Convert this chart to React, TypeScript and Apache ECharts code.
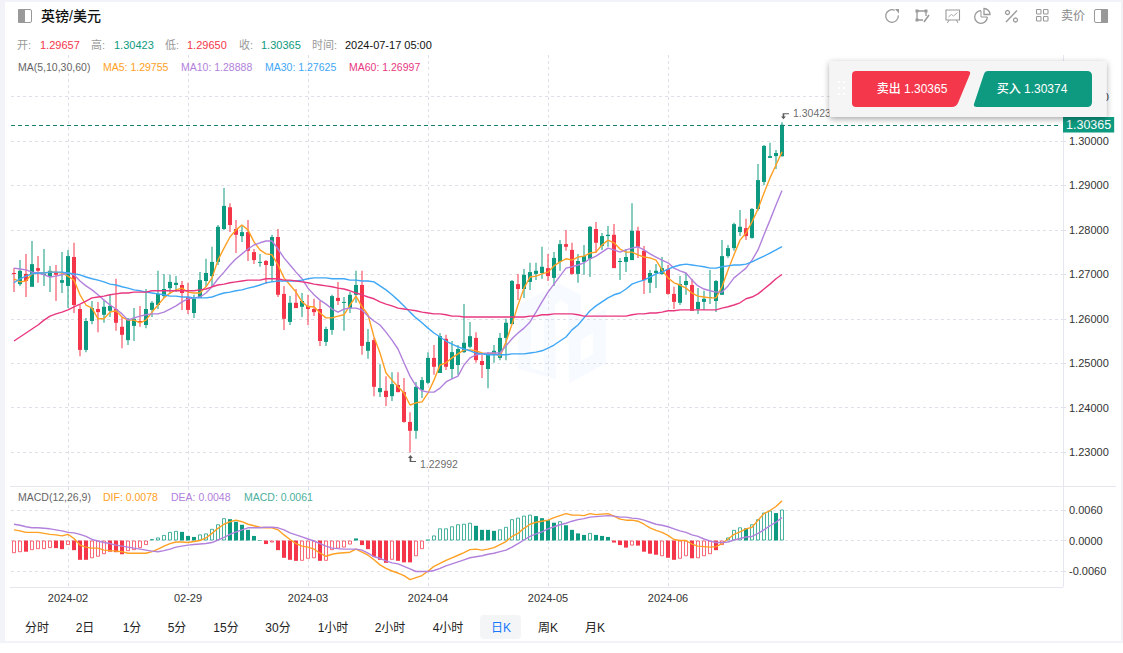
import React, { useEffect, useRef } from "react";
import * as echarts from "echarts";

const opens = [
  1.2703,1.2678,1.2701,1.2672,1.2714,1.2699,1.2694,1.2705,1.2681,1.2674,
  1.2739,1.2622,1.2530,1.2595,1.2622,1.2609,1.2618,1.2622,1.2582,1.2552,
  1.2584,1.2595,1.2586,1.2620,1.2631,1.2651,1.2669,1.2676,1.2676,1.2649,
  1.2613,1.2647,1.2685,1.2696,1.2728,1.2802,1.2851,1.2802,1.2786,1.2795,
  1.2750,1.2726,1.2730,1.2719,1.2784,1.2656,1.2593,1.2636,1.2627,1.2629,
  1.2622,1.2622,1.2548,1.2575,1.2647,1.2636,1.2624,1.2654,1.2676,1.2528,
  1.2552,1.2435,1.2438,1.2426,1.2451,1.2435,1.2368,1.2348,1.2440,1.2456,
  1.2512,1.2478,1.2555,1.2487,1.2496,1.2525,1.2537,1.2557,1.2505,1.2487,
  1.2521,1.2512,1.2557,1.2588,1.2678,1.2667,1.2683,1.2701,1.2703,1.2714,
  1.2692,1.2728,1.2768,1.2755,1.2701,1.2728,1.2735,1.2802,1.2764,1.2786,
  1.2789,1.2728,1.2728,1.2732,1.2798,1.2753,1.2681,1.2703,1.2701,1.2712,
  1.2656,1.2636,1.2676,1.2676,1.2622,1.2638,1.2647,1.2640,1.2654,1.2741,
  1.2759,1.2795,1.2804,1.2782,1.2847,1.2908,1.2962,1.2966,1.29657,
];
const closes = [
  1.2701,1.2708,1.2685,1.2723,1.2708,1.2701,1.2708,1.2699,1.2687,1.2741,
  1.2631,1.2530,1.2595,1.2624,1.2615,1.2627,1.2629,1.2591,1.2564,1.2600,
  1.2600,1.2593,1.2622,1.2636,1.2656,1.2667,1.2683,1.2681,1.2658,1.2620,
  1.2645,1.2687,1.2703,1.2728,1.2807,1.2854,1.2811,1.2789,1.2795,1.2753,
  1.2732,1.2728,1.2721,1.2784,1.2654,1.2600,1.2636,1.2624,1.2640,1.2622,
  1.2615,1.2550,1.2577,1.2651,1.2640,1.2638,1.2654,1.2676,1.2539,1.2548,
  1.2447,1.2444,1.2424,1.2453,1.2435,1.2368,1.2348,1.2447,1.2462,1.2512,
  1.2492,1.2561,1.2492,1.2525,1.2532,1.2546,1.2561,1.2507,1.2496,1.2523,
  1.2528,1.2557,1.2591,1.2685,1.2667,1.2699,1.2705,1.2708,1.2717,1.2696,
  1.2737,1.2768,1.2762,1.2701,1.2730,1.2741,1.2807,1.2771,1.2786,1.2789,
  1.2714,1.2730,1.2739,1.2798,1.2762,1.2687,1.2703,1.2708,1.2714,1.2656,
  1.2638,1.2678,1.2685,1.2618,1.2638,1.2645,1.2649,1.2685,1.2741,1.2759,
  1.2813,1.2807,1.2786,1.2847,1.2912,1.2989,1.2966,1.2973,1.30365,
];
const highs = [
  1.2714,1.2732,1.2746,1.2775,1.2741,1.2757,1.2719,1.2721,1.2750,1.2755,
  1.2771,1.2631,1.2602,1.2640,1.2638,1.2642,1.2654,1.2690,1.2604,1.2602,
  1.2624,1.2629,1.2667,1.2640,1.2708,1.2701,1.2699,1.2696,1.2685,1.2681,
  1.2654,1.2705,1.2735,1.2762,1.2811,1.2894,1.2860,1.2822,1.2811,1.2822,
  1.2757,1.2746,1.2732,1.2789,1.2802,1.2674,1.2651,1.2667,1.2658,1.2654,
  1.2645,1.2640,1.2582,1.2654,1.2683,1.2649,1.2660,1.2708,1.2708,1.2577,
  1.2557,1.2498,1.2471,1.2480,1.2480,1.2467,1.2390,1.2458,1.2469,1.2525,
  1.2541,1.2568,1.2564,1.2550,1.2541,1.2633,1.2593,1.2570,1.2519,1.2525,
  1.2541,1.2568,1.2600,1.2687,1.2701,1.2712,1.2726,1.2726,1.2762,1.2746,
  1.2750,1.2777,1.2800,1.2771,1.2746,1.2766,1.2809,1.2818,1.2793,1.2809,
  1.2813,1.2737,1.2757,1.2860,1.2807,1.2764,1.2710,1.2723,1.2739,1.2721,
  1.2672,1.2696,1.2703,1.2690,1.2669,1.2663,1.2710,1.2687,1.2777,1.2766,
  1.2816,1.2845,1.2825,1.2849,1.2948,1.2991,1.2996,1.2980,1.30423,
];
const lows = [
  1.2660,1.2674,1.2649,1.2672,1.2681,1.2674,1.2660,1.2640,1.2658,1.2624,
  1.2613,1.2516,1.2525,1.2588,1.2570,1.2591,1.2604,1.2573,1.2534,1.2541,
  1.2550,1.2582,1.2579,1.2604,1.2622,1.2647,1.2656,1.2660,1.2620,1.2611,
  1.2602,1.2647,1.2672,1.2672,1.2721,1.2800,1.2795,1.2748,1.2773,1.2730,
  1.2723,1.2717,1.2678,1.2683,1.2649,1.2575,1.2586,1.2624,1.2604,1.2586,
  1.2606,1.2539,1.2539,1.2564,1.2631,1.2573,1.2613,1.2636,1.2519,1.2510,
  1.2426,1.2424,1.2404,1.2415,1.2435,1.2366,1.22992,1.2330,1.2422,1.2453,
  1.2474,1.2478,1.2485,1.2465,1.2474,1.2523,1.2534,1.2501,1.2467,1.2444,
  1.2501,1.2507,1.2507,1.2588,1.2642,1.2647,1.2665,1.2687,1.2690,1.2685,
  1.2674,1.2708,1.2753,1.2699,1.2681,1.2699,1.2694,1.2748,1.2755,1.2762,
  1.2714,1.2687,1.2705,1.2732,1.2737,1.2656,1.2658,1.2669,1.2699,1.2654,
  1.2622,1.2631,1.2654,1.2618,1.2611,1.2620,1.2633,1.2615,1.2654,1.2737,
  1.2753,1.2786,1.2777,1.2780,1.2843,1.2901,1.2962,1.2937,1.29650,
];

const ma5 = [
  1.2690,1.2683,1.2685,1.2701,1.2703,1.2703,1.2705,1.2705,1.2703,1.2696,
  1.2687,1.2654,1.2631,1.2624,1.2600,1.2600,1.2615,1.2618,1.2604,1.2597,
  1.2597,1.2591,1.2597,1.2615,1.2631,1.2647,1.2658,1.2665,1.2669,1.2660,
  1.2658,1.2658,1.2672,1.2692,1.2732,1.2759,1.2784,1.2800,1.2811,1.2800,
  1.2773,1.2755,1.2746,1.2744,1.2721,1.2692,1.2676,1.2660,1.2638,1.2627,
  1.2627,1.2613,1.2602,1.2602,1.2606,1.2609,1.2631,1.2651,1.2627,1.2609,
  1.2559,1.2523,1.2478,1.2462,1.2447,1.2433,1.2406,1.2411,1.2413,1.2433,
  1.2462,1.2496,1.2501,1.2512,1.2521,1.2530,1.2530,1.2528,1.2523,1.2521,
  1.2523,1.2516,1.2548,1.2588,1.2631,1.2669,1.2694,1.2696,1.2701,1.2705,
  1.2719,1.2728,1.2735,1.2732,1.2739,1.2741,1.2748,1.2750,1.2766,1.2777,
  1.2771,1.2757,1.2750,1.2750,1.2744,1.2739,1.2737,1.2732,1.2710,1.2692,
  1.2681,1.2676,1.2669,1.2658,1.2651,1.2649,1.2647,1.2647,1.2672,1.2710,
  1.2744,1.2777,1.2793,1.2818,1.2847,1.2883,1.2917,1.2946,1.29755,
];
const ma10 = [
  1.2714,1.2712,1.2710,1.2705,1.2703,1.2699,1.2694,1.2696,1.2699,1.2703,
  1.2699,1.2685,1.2674,1.2665,1.2654,1.2642,1.2631,1.2622,1.2611,1.2597,
  1.2602,1.2606,1.2609,1.2611,1.2611,1.2615,1.2622,1.2629,1.2638,1.2645,
  1.2647,1.2649,1.2658,1.2672,1.2690,1.2705,1.2721,1.2735,1.2746,1.2757,
  1.2766,1.2771,1.2775,1.2775,1.2757,1.2737,1.2721,1.2705,1.2690,1.2669,
  1.2654,1.2642,1.2633,1.2622,1.2615,1.2622,1.2624,1.2624,1.2620,1.2606,
  1.2595,1.2586,1.2570,1.2552,1.2532,1.2501,1.2471,1.2449,1.2438,1.2435,
  1.2435,1.2444,1.2458,1.2465,1.2471,1.2496,1.2512,1.2519,1.2521,1.2523,
  1.2523,1.2523,1.2539,1.2555,1.2568,1.2579,1.2593,1.2615,1.2638,1.2660,
  1.2678,1.2696,1.2714,1.2717,1.2721,1.2726,1.2735,1.2741,1.2750,1.2759,
  1.2755,1.2750,1.2755,1.2759,1.2762,1.2755,1.2746,1.2739,1.2732,1.2726,
  1.2714,1.2708,1.2703,1.2687,1.2674,1.2667,1.2663,1.2660,1.2660,1.2674,
  1.2692,1.2703,1.2714,1.2732,1.2755,1.2789,1.2822,1.2856,1.28888,
];
const ma30 = [
  1.2681,1.2690,1.2696,1.2701,1.2703,1.2703,1.2705,1.2705,1.2705,1.2703,
  1.2701,1.2699,1.2694,1.2690,1.2687,1.2683,1.2678,1.2676,1.2672,1.2669,
  1.2665,1.2663,1.2660,1.2658,1.2656,1.2654,1.2651,1.2651,1.2649,1.2649,
  1.2647,1.2647,1.2647,1.2649,1.2654,1.2658,1.2660,1.2663,1.2665,1.2669,
  1.2672,1.2676,1.2681,1.2683,1.2685,1.2685,1.2685,1.2685,1.2687,1.2690,
  1.2692,1.2692,1.2692,1.2690,1.2690,1.2690,1.2687,1.2687,1.2685,1.2685,
  1.2683,1.2674,1.2665,1.2654,1.2642,1.2629,1.2615,1.2602,1.2591,1.2579,
  1.2568,1.2559,1.2550,1.2543,1.2537,1.2532,1.2528,1.2523,1.2521,1.2519,
  1.2519,1.2519,1.2519,1.2521,1.2521,1.2521,1.2523,1.2525,1.2528,1.2534,
  1.2541,1.2550,1.2559,1.2575,1.2586,1.2602,1.2618,1.2629,1.2638,1.2647,
  1.2654,1.2658,1.2667,1.2678,1.2683,1.2687,1.2694,1.2701,1.2705,1.2712,
  1.2717,1.2721,1.2723,1.2721,1.2719,1.2717,1.2714,1.2714,1.2717,1.2719,
  1.2721,1.2721,1.2723,1.2728,1.2735,1.2741,1.2748,1.2755,1.27625,
];
const ma60 = [
  1.2550,1.2559,1.2568,1.2577,1.2586,1.2597,1.2606,1.2611,1.2615,1.2620,
  1.2627,1.2633,1.2640,1.2647,1.2649,1.2651,1.2654,1.2656,1.2658,1.2658,
  1.2660,1.2660,1.2660,1.2663,1.2663,1.2663,1.2663,1.2663,1.2663,1.2663,
  1.2663,1.2665,1.2667,1.2672,1.2676,1.2678,1.2681,1.2683,1.2685,1.2687,
  1.2687,1.2687,1.2690,1.2690,1.2690,1.2687,1.2687,1.2685,1.2683,1.2681,
  1.2678,1.2676,1.2674,1.2672,1.2669,1.2667,1.2663,1.2658,1.2654,1.2649,
  1.2645,1.2638,1.2633,1.2629,1.2624,1.2622,1.2620,1.2618,1.2615,1.2613,
  1.2611,1.2611,1.2609,1.2606,1.2606,1.2604,1.2604,1.2604,1.2604,1.2604,
  1.2604,1.2604,1.2604,1.2604,1.2604,1.2604,1.2606,1.2606,1.2609,1.2609,
  1.2611,1.2611,1.2611,1.2611,1.2609,1.2606,1.2606,1.2606,1.2606,1.2606,
  1.2606,1.2606,1.2606,1.2609,1.2611,1.2611,1.2613,1.2613,1.2615,1.2618,
  1.2618,1.2620,1.2620,1.2620,1.2620,1.2620,1.2620,1.2620,1.2624,1.2627,
  1.2631,1.2636,1.2645,1.2649,1.2656,1.2667,1.2678,1.2690,1.26997,
];

const macdHist = [
  -0.0025,-0.0023,-0.0022,-0.0019,-0.0017,-0.0017,-0.0015,-0.0015,-0.0017,-0.0009,
  -0.0019,-0.0038,-0.0038,-0.0035,-0.0032,-0.0027,-0.0022,-0.0023,-0.0027,-0.0021,
  -0.0019,-0.0015,-0.0009,0.0003,0.0006,0.0011,0.0017,0.0019,0.0017,0.0009,
  0.0007,0.0012,0.0014,0.0023,0.0032,0.0044,0.0042,0.0037,0.0031,0.0021,
  0.0009,0.0001,-0.0007,-0.0004,-0.0019,-0.0034,-0.0038,-0.0040,-0.0040,-0.0036,
  -0.0035,-0.0040,-0.0040,-0.0019,-0.0016,-0.0014,-0.0008,0.0004,-0.0009,-0.0017,
  -0.0032,-0.0038,-0.0044,-0.0038,-0.0040,-0.0043,-0.0043,-0.0031,-0.0017,0.0002,
  0.0010,0.0024,0.0024,0.0028,0.0032,0.0033,0.0035,0.0029,0.0021,0.0021,
  0.0019,0.0022,0.0027,0.0042,0.0045,0.0049,0.0051,0.0048,0.0044,0.0040,
  0.0035,0.0038,0.0030,0.0021,0.0014,0.0011,0.0015,0.0011,0.0009,0.0007,
  -0.0004,-0.0009,-0.0014,-0.0010,-0.0010,-0.0022,-0.0026,-0.0028,-0.0031,-0.0034,
  -0.0038,-0.0036,-0.0031,-0.0035,-0.0035,-0.0031,-0.0027,-0.0019,-0.0009,0.0006,
  0.0021,0.0026,0.0024,0.0032,0.0042,0.0055,0.0059,0.0054,0.0061,
];
const macdHollow = [
  1,1,0,1,1,1,1,0,0,1,
  0,0,0,1,1,1,0,0,0,1,
  1,1,1,1,1,1,1,1,0,0,
  0,1,1,1,1,1,0,0,0,0,
  0,0,0,1,0,0,0,0,1,1,
  1,0,1,1,1,1,1,0,0,0,
  0,0,0,1,0,0,0,1,1,0,
  1,1,1,1,1,1,1,0,0,0,
  0,1,1,1,1,1,1,0,0,0,
  0,1,0,0,0,0,1,0,0,0,
  0,0,0,1,0,0,0,0,1,0,
  0,1,1,0,1,1,1,0,1,1,
  1,1,0,1,1,1,1,0,1,
];
const dif = [
  0.0021,0.0019,0.0016,0.0016,0.0016,0.0014,0.0012,0.0011,0.0009,0.0012,
  0.0004,-0.0009,-0.0013,-0.0015,-0.0015,-0.0019,-0.0020,-0.0021,-0.0022,-0.0025,
  -0.0025,-0.0025,-0.0025,-0.0022,-0.0017,-0.0011,-0.0006,-0.0003,-0.0003,-0.0004,
  -0.0002,0.0000,0.0005,0.0014,0.0024,0.0032,0.0037,0.0040,0.0037,0.0032,
  0.0029,0.0026,0.0025,0.0025,0.0021,0.0011,0.0002,-0.0006,-0.0011,-0.0013,
  -0.0017,-0.0025,-0.0031,-0.0027,-0.0025,-0.0024,-0.0023,-0.0017,-0.0023,-0.0029,
  -0.0038,-0.0048,-0.0055,-0.0060,-0.0064,-0.0069,-0.0077,-0.0073,-0.0069,-0.0060,
  -0.0051,-0.0045,-0.0039,-0.0034,-0.0029,-0.0024,-0.0018,-0.0017,-0.0019,-0.0017,
  -0.0014,-0.0008,-0.0002,0.0008,0.0014,0.0024,0.0032,0.0036,0.0038,0.0040,
  0.0045,0.0049,0.0053,0.0050,0.0050,0.0049,0.0053,0.0051,0.0052,0.0053,
  0.0048,0.0042,0.0040,0.0040,0.0038,0.0032,0.0025,0.0020,0.0016,0.0010,
  0.0002,0.0000,0.0000,-0.0007,-0.0011,-0.0012,-0.0013,-0.0012,-0.0006,0.0003,
  0.0012,0.0017,0.0023,0.0026,0.0040,0.0053,0.0059,0.0067,0.0078,
];
const dea = [
  0.0032,0.0030,0.0027,0.0025,0.0025,0.0024,0.0023,0.0021,0.0019,0.0016,
  0.0015,0.0012,0.0008,0.0002,-0.0001,-0.0004,-0.0006,-0.0009,-0.0011,-0.0013,
  -0.0015,-0.0017,-0.0019,-0.0021,-0.0022,-0.0020,-0.0017,-0.0013,-0.0011,-0.0009,
  -0.0008,-0.0007,-0.0006,-0.0004,0.0001,0.0006,0.0012,0.0017,0.0021,0.0025,
  0.0025,0.0025,0.0026,0.0026,0.0025,0.0021,0.0015,0.0011,0.0007,0.0003,
  -0.0001,-0.0006,-0.0011,-0.0015,-0.0016,-0.0017,-0.0017,-0.0017,-0.0019,-0.0025,
  -0.0032,-0.0035,-0.0040,-0.0044,-0.0046,-0.0051,-0.0056,-0.0061,-0.0061,-0.0061,
  -0.0059,-0.0055,-0.0050,-0.0046,-0.0042,-0.0038,-0.0034,-0.0032,-0.0030,-0.0027,
  -0.0025,-0.0022,-0.0019,-0.0013,-0.0006,0.0001,0.0008,0.0013,0.0017,0.0023,
  0.0027,0.0031,0.0034,0.0038,0.0041,0.0043,0.0046,0.0047,0.0048,0.0049,
  0.0048,0.0046,0.0046,0.0044,0.0043,0.0040,0.0036,0.0032,0.0030,0.0027,
  0.0023,0.0019,0.0016,0.0011,0.0008,0.0003,-0.0001,-0.0004,-0.0004,-0.0003,
  0.0001,0.0004,0.0007,0.0008,0.0014,0.0021,0.0029,0.0036,0.0045,
];

const tickLabels = ["2024-02", "02-29", "2024-03", "2024-04", "2024-05", "2024-06"];
const tickLabelIndexes = [9, 29, 49, 69, 89, 109];
const emptySlotsOnRight = 46;
const priceTicks = [1.23, 1.24, 1.25, 1.26, 1.27, 1.28, 1.29, 1.3, 1.31];
const macdTicks = [-0.006, 0, 0.006];
const lastPrice = 1.30365;
const peak = { index: 128, value: 1.30423 };
const trough = { index: 66, value: 1.22992 };
const intervalTabs = ["分时", "2日", "1分", "5分", "15分", "30分", "1小时", "2小时", "4小时", "日K", "周K", "月K"];

const GREEN = "#0d9a80";
const RED = "#f5364a";
const ORANGE = "#ffa024";
const PURPLE = "#b181dc";
const BLUE = "#3fa7f5";
const PINK = "#e8377f";
const GRID = "#dedfe8";
const FRAME = "#e5e7f0";
const FONT = '"Liberation Sans", "Noto Sans CJK SC", sans-serif';

echarts.graphic.registerShape("sellBtn", echarts.graphic.extendPath("M856 71H967Q971 71 970 74L958 103Q956 107 952 107H856Q852 107 852 103V75Q852 71 856 71Z", {}));
echarts.graphic.registerShape("buyBtn", echarts.graphic.extendPath("M988 71H1087Q1092 71 1092 76V102Q1092 107 1087 107H977Q973 107 974 104L984 74Q985 71 988 71Z", {}));

const categories = Array.from({ length: opens.length + emptySlotsOnRight }, (_, i) => {
  const k = tickLabelIndexes.indexOf(i);
  return k >= 0 ? tickLabels[k] : "";
});
const isTick = (i: number) => tickLabelIndexes.includes(i);

function txt(text: string, x: number, y: number, fill: string, fontSize = 11, extra: any = {}) {
  return {
    type: "text",
    x,
    y,
    z: 10,
    silent: true,
    style: { text, fill, fontSize, fontFamily: FONT, verticalAlign: "middle", align: "left", ...extra },
  };
}
const stroke = (color = "#999", lineWidth = 1.3) => ({ stroke: color, lineWidth, fill: "none" });
const ln = (x1: number, y1: number, x2: number, y2: number, color: string, z = 1, w = 1) => ({
  type: "line", z, silent: true, shape: { x1, y1, x2, y2 }, style: { stroke: color, lineWidth: w },
});

function buildGraphics() {
  const g: any[] = [];
  // page edges
  g.push({ type: "rect", z: 1, shape: { x: 0, y: 0, width: 1123, height: 2 }, style: { fill: "#f1f3f8" } });
  g.push({ type: "rect", z: 1, shape: { x: 0, y: 0, width: 5, height: 641 }, style: { fill: "#f1f3f8" } });
  g.push({ type: "rect", z: 1, shape: { x: 1121, y: 0, width: 2, height: 641 }, style: { fill: "#f1f3f8" } });
  g.push({ type: "rect", z: 1, shape: { x: 0, y: 641, width: 1123, height: 2 }, style: { fill: "#f1f3f8" } });
  // frame
  g.push(ln(10, 486.5, 1116, 486.5, FRAME));
  g.push(ln(10, 587.5, 1063, 587.5, FRAME));
  g.push(ln(1063.5, 55, 1063.5, 587, FRAME));
  // watermark
  g.push({ type: "polygon", z: -2, shape: { points: [[518, 304], [560, 284], [581, 295], [581, 320], [606, 309], [606, 363], [570, 383], [522, 370], [518, 369]] }, style: { fill: "#f7faff" } });
  g.push({ type: "polygon", z: -1, shape: { points: [[531, 322], [544, 316], [544, 372], [531, 368]] }, style: { fill: "#fdfeff" } });
  g.push({ type: "polygon", z: -1, shape: { points: [[555, 305], [561, 300], [568, 305], [569, 383], [556, 380]] }, style: { fill: "#ffffff" } });
  g.push({ type: "polygon", z: -1, shape: { points: [[581, 340], [593, 333], [593, 354], [581, 361]] }, style: { fill: "#ffffff" } });
  // header
  g.push({ type: "rect", z: 10, shape: { x: 18.5, y: 9.5, width: 13, height: 13, r: 1.5 }, style: stroke("#999", 1) });
  g.push({ type: "rect", z: 10, shape: { x: 18, y: 9, width: 7, height: 14, r: 1 }, style: { fill: "#999" } });
  g.push(txt("英镑/美元", 41, 16, "#111", 14, { fontWeight: 500 }));
  [["开:", 17, "#999"], ["1.29657", 40, RED], ["高:", 91, "#999"], ["1.30423", 114, GREEN], ["低:", 165, "#999"], ["1.29650", 187, RED], ["收:", 239, "#999"], ["1.30365", 261, GREEN], ["时间:", 312, "#999"], ["2024-07-17 05:00", 345, "#111"]].forEach((r: any) => g.push(txt(r[0], r[1], 45, r[2])));
  [["MA(5,10,30,60)", 18, "#666"], ["MA5: 1.29755", 103, ORANGE], ["MA10: 1.28888", 181, PURPLE], ["MA30: 1.27625", 265, BLUE], ["MA60: 1.26997", 349, PINK]].forEach((r: any) => g.push(txt(r[0], r[1], 67, r[2], 10.5)));
  [["MACD(12,26,9)", 18, "#666"], ["DIF: 0.0078", 103, ORANGE], ["DEA: 0.0048", 171, PURPLE], ["MACD: 0.0061", 244, "#4bb09c"]].forEach((r: any) => g.push(txt(r[0], r[1], 497, r[2], 10.5)));
  // toolbar icons
  g.push({ type: "arc", z: 10, shape: { cx: 892, cy: 16, r: 6.3, startAngle: -0.1, endAngle: 5.15, clockwise: true }, style: stroke() });
  g.push({ type: "polygon", z: 10, shape: { points: [[895, 9], [899, 9], [899, 13.5]] }, style: { fill: "#999" } });
  g.push({ type: "polyline", z: 10, shape: { points: [[926, 16], [926, 11], [917, 11], [917, 20], [923, 20]] }, style: stroke() });
  [[917, 11], [926, 11], [917, 20]].forEach((p) => g.push({ type: "rect", z: 10, shape: { x: p[0] - 1.5, y: p[1] - 1.5, width: 3, height: 3 }, style: { fill: "#999" } }));
  g.push(ln(924, 22, 929, 15, "#999", 10, 1.5));
  g.push({ type: "rect", z: 10, shape: { x: 946, y: 10, width: 13.5, height: 10 }, style: stroke("#999", 1.1) });
  g.push({ type: "polyline", z: 10, shape: { points: [[948.5, 17], [951.5, 14.5], [953.5, 16], [957.5, 12.5]] }, style: stroke("#aaa", 1) });
  g.push(ln(949, 20, 947.5, 23, "#999", 10));
  g.push(ln(956.5, 20, 958, 23, "#999", 10));
  g.push({ type: "arc", z: 10, shape: { cx: 981, cy: 17, r: 6.3, startAngle: 0, endAngle: Math.PI * 1.5, clockwise: true }, style: stroke() });
  g.push(ln(981, 10.7, 981, 17, "#999", 10));
  g.push(ln(981, 17, 987.3, 17, "#999", 10));
  g.push({ type: "sector", z: 10, shape: { cx: 984, cy: 14.5, r0: 0, r: 6, startAngle: -Math.PI / 2, endAngle: 0 }, style: stroke() });
  g.push({ type: "circle", z: 10, shape: { cx: 1007.5, cy: 12.5, r: 2 }, style: stroke() });
  g.push({ type: "circle", z: 10, shape: { cx: 1015.5, cy: 20, r: 2 }, style: stroke() });
  g.push(ln(1017, 10.5, 1006, 22, "#999", 10, 1.3));
  [[1036.5, 9.5], [1043.5, 9.5], [1036.5, 16.5], [1043.5, 16.5]].forEach((p) => g.push({ type: "rect", z: 10, shape: { x: p[0], y: p[1], width: 4.5, height: 4.5, r: 0.8 }, style: stroke("#999", 1.1) }));
  g.push(txt("卖价", 1061, 16, "#888", 12));
  g.push({ type: "rect", z: 10, shape: { x: 1094.5, y: 9.5, width: 13, height: 13, r: 1.5 }, style: stroke("#999", 1) });
  g.push({ type: "rect", z: 10, shape: { x: 1101, y: 9, width: 7, height: 14, r: 1 }, style: { fill: "#999" } });
  // trade popup
  g.push({ type: "rect", z: 20, shape: { x: 829.5, y: 61, width: 277, height: 56, r: 2 }, style: { fill: "#f5f5f5", shadowBlur: 6, shadowColor: "rgba(0,0,0,0.35)", shadowOffsetY: 2 } });
  for (let r = 0; r < 3; r++) for (let c = 0; c < 2; c++) g.push({ type: "rect", z: 21, shape: { x: 838 + c * 5, y: 81 + r * 6, width: 2, height: 2 }, style: { fill: "#ffffff" } });
  g.push({ type: "sellBtn", z: 21, style: { fill: "#f5374b" } });
  g.push({ type: "buyBtn", z: 21, style: { fill: "#0e9a80" } });
  const popupSell = txt("卖出 1.30365", 912, 89, "#fff", 12, { align: "center", fontWeight: 500 });
  const popupBuy = txt("买入 1.30374", 1032, 89, "#fff", 12, { align: "center", fontWeight: 500 });
  g.push({ ...popupSell, z: 22 }, { ...popupBuy, z: 22 });
  // bottom tabs
  g.push({ type: "rect", z: 1, shape: { x: 480, y: 615, width: 41, height: 24, r: 4 }, style: { fill: "#f4f5f7" } });
  const tabCenters = [37, 85, 132, 177, 226, 278, 333, 390, 448, 501, 548, 595];
  intervalTabs.forEach((t, i) => g.push(txt(t, tabCenters[i], 628, t === "日K" ? "#1677ff" : "#222", 12, { align: "center" })));
  return g;
}

function renderCandle(params: any, api: any) {
  const i = api.value(0);
  const o = api.value(1);
  const c = api.value(2);
  const l = api.value(3);
  const h = api.value(4);
  const color = c >= o ? GREEN : RED;
  const top = api.coord([i, Math.max(o, c)]);
  const bot = api.coord([i, Math.min(o, c)]);
  const hi = api.coord([i, h]);
  const lo = api.coord([i, l]);
  const w = 4;
  const cx = top[0];
  return {
    type: "group",
    children: [
      { type: "line", shape: { x1: cx, y1: hi[1], x2: cx, y2: lo[1] }, style: { stroke: color, lineWidth: 2, opacity: 0.5 } },
      { type: "rect", shape: { x: cx - w / 2, y: top[1], width: w, height: Math.max(bot[1] - top[1], 1) }, style: { fill: color } },
    ],
  };
}

const lineSeries = (name: string, data: number[], color: string, xi = 0, extra: any = {}) => ({
  name, type: "line", data, xAxisIndex: xi, yAxisIndex: xi, showSymbol: false, silent: true,
  lineStyle: { color, width: 1.4 }, itemStyle: { color }, z: 4, ...extra,
});

const hiArrow = "path://M0 0H7V1.4H1.8V5H3.6L0.9 9L-1.8 5H0Z";
const loArrow = "path://M0 9H7V7.6H1.8V4H3.6L0.9 0L-1.8 4H0Z";

export default function App() {
  const ref = useRef<HTMLDivElement>(null);
  useEffect(() => {
    const chart = echarts.init(ref.current!, undefined, { renderer: "svg" });
    const xBase = {
      type: "category",
      data: categories,
      boundaryGap: true,
      axisLine: { show: false },
      axisTick: { show: false, alignWithLabel: true, interval: (i: number) => isTick(i) },
      splitLine: { show: true, alignWithLabel: true, interval: (i: number) => isTick(i), lineStyle: { color: GRID, type: [3, 3] } },
    };
    const yBase = {
      type: "value",
      position: "right",
      scale: true,
      axisLine: { show: false },
      splitLine: { show: true, lineStyle: { color: GRID, type: [3, 3] } },
    };
    const option: any = {
      animation: false,
      backgroundColor: "#ffffff",
      textStyle: { fontFamily: FONT },
      grid: [
        { left: 11, top: 55, width: 1050, height: 431 },
        { left: 11, top: 487, width: 1050, height: 100 },
      ],
      xAxis: [
        { ...xBase, gridIndex: 0, axisLabel: { show: false } },
        { ...xBase, gridIndex: 1, axisLabel: { show: true, color: "#333", fontSize: 11, margin: 5, fontFamily: FONT, interval: (i: number) => isTick(i), hideOverlap: false } },
      ],
      yAxis: [
        {
          ...yBase, gridIndex: 0, min: 1.22238, max: 1.31935,
          axisTick: { show: true, length: 5, lineStyle: { color: GRID }, customValues: priceTicks },
          axisLabel: { color: "#333", fontSize: 11, margin: 8, fontFamily: FONT, customValues: priceTicks, formatter: (v: number) => v.toFixed(5) },
        },
        {
          ...yBase, gridIndex: 1, min: -0.00915, max: 0.01053,
          axisTick: { show: true, length: 5, lineStyle: { color: GRID }, customValues: macdTicks },
          axisLabel: { color: "#333", fontSize: 11, margin: 8, fontFamily: FONT, customValues: macdTicks, formatter: (v: number) => v.toFixed(4) },
        },
      ],
      series: [
        {
          type: "custom",
          name: "K",
          renderItem: renderCandle,
          clip: false,
          silent: true,
          z: 3,
          encode: { x: 0, y: [1, 2, 3, 4] },
          data: opens.map((o, i) => [i, o, closes[i], lows[i], highs[i]]),
        },
        lineSeries("MA5", ma5, ORANGE, 0, {
          markLine: {
            silent: true,
            symbol: "none",
            animation: false,
            precision: 5,
            lineStyle: { color: "#157f6c", type: [4, 3], width: 1 },
            label: {
              show: true, position: "end", distance: 2, formatter: () => lastPrice.toFixed(5),
              color: "#fff", backgroundColor: GREEN, fontSize: 12.5, fontFamily: FONT, padding: [2, 3, 1, 3],
            },
            data: [{ yAxis: lastPrice }],
          },
        }),
        lineSeries("MA10", ma10, PURPLE),
        lineSeries("MA30", ma30, BLUE),
        lineSeries("MA60", ma60, PINK),
        {
          type: "scatter", silent: true, z: 6,
          symbol: hiArrow, symbolSize: [8, 6], symbolOffset: [3, -6], itemStyle: { color: "#333" },
          data: [[peak.index, peak.value]],
          label: { show: true, position: "right", distance: 2, offset: [2, -3], color: "#444", fontSize: 10.5, fontFamily: FONT, formatter: () => peak.value.toFixed(5) },
        },
        {
          type: "scatter", silent: true, z: 6,
          symbol: loArrow, symbolSize: [8, 7], symbolOffset: [2, 6], itemStyle: { color: "#333" },
          data: [[trough.index, trough.value]],
          label: { show: true, position: "right", distance: 2, offset: [2, 6], color: "#444", fontSize: 10.5, fontFamily: FONT, formatter: () => trough.value.toFixed(5) },
        },
        {
          type: "bar", name: "MACD", xAxisIndex: 1, yAxisIndex: 1, barWidth: 4, silent: true, z: 3,
          data: macdHist.map((v, i) => {
            const color = v >= 0 ? GREEN : RED;
            return {
              value: v,
              itemStyle: macdHollow[i]
                ? { color: "#ffffff", borderColor: color, borderWidth: 1, opacity: 0.75 }
                : { color },
            };
          }),
        },
        lineSeries("DIF", dif, ORANGE, 1),
        lineSeries("DEA", dea, PURPLE, 1),
      ],
      graphic: { elements: buildGraphics() },
    };
    chart.setOption(option);
    return () => chart.dispose();
  }, []);
  return <div ref={ref} style={{ position: "absolute", left: 0, top: 0, width: 1123, height: 653, background: "#fff" }} />;
}
